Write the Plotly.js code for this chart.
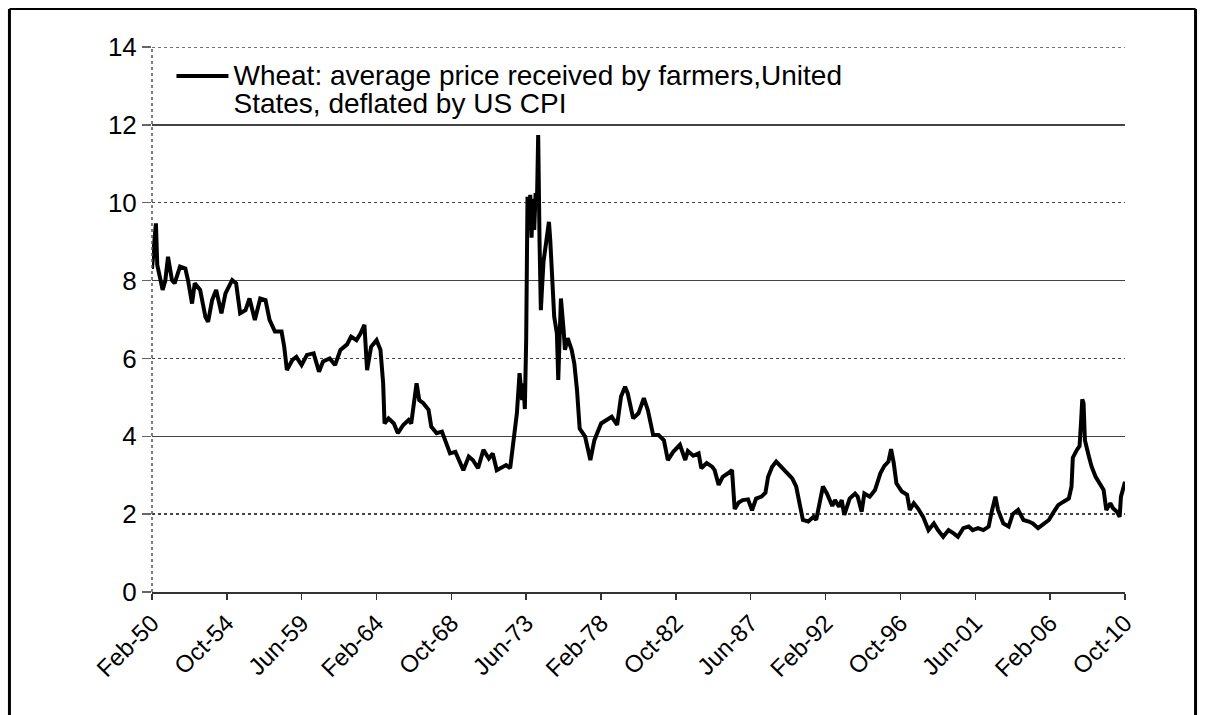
<!DOCTYPE html>
<html>
<head>
<meta charset="utf-8">
<script src="https://cdn.plot.ly/plotly-3.0.1.min.js"></script>
<style>
html,body{margin:0;padding:0;background:#fff;}
#chart{width:1206px;height:715px;}
</style>
</head>
<body>
<div id="chart"></div>
<script>
var months = [
"1950-02","1950-03","1950-04","1950-05","1950-06","1950-08","1950-10","1950-12",
"1951-02","1951-05","1951-07","1951-11","1952-03","1952-05","1952-08","1952-10",
"1953-02","1953-06","1953-08","1953-11","1954-02","1954-06","1954-09","1955-02",
"1955-05","1955-08","1955-12","1956-03","1956-07","1956-11","1957-03","1957-06",
"1957-10","1958-03","1958-05","1958-07","1958-11","1959-02","1959-06","1959-10",
"1960-03","1960-07","1960-10","1961-03","1961-07","1961-11","1962-04","1962-07",
"1962-11","1963-02","1963-05","1963-07","1963-10","1964-02","1964-05","1964-07",
"1964-08","1964-11","1965-03","1965-06","1965-10","1966-02","1966-04","1966-08",
"1966-10","1967-01","1967-05","1967-07","1967-11","1968-03","1968-06","1968-09",
"1969-01","1969-04","1969-07","1969-11","1970-02","1970-06","1970-10","1971-02",
"1971-05","1971-08","1971-12","1972-03","1972-06","1972-08","1972-11","1973-01",
"1973-03","1973-04","1973-05","1973-06","1973-07","1973-08","1973-09","1973-10",
"1973-11","1973-12","1974-01","1974-02","1974-03","1974-04","1974-05","1974-06",
"1974-07","1974-09","1974-11","1974-12","1975-02","1975-03","1975-05","1975-06",
"1975-07","1975-08","1975-10","1975-11","1976-01","1976-04","1976-06","1976-08",
"1976-10","1977-02","1977-06","1977-09","1978-02","1978-06","1978-10","1979-02",
"1979-05","1979-08","1979-10","1980-02","1980-06","1980-10","1981-01","1981-05",
"1981-09","1982-01","1982-04","1982-08","1983-01","1983-05","1983-07","1983-11",
"1984-03","1984-05","1984-09","1985-01","1985-03","1985-06","1985-09","1986-01",
"1986-04","1986-06","1986-09","1986-12","1987-04","1987-07","1987-10","1988-02",
"1988-05","1988-07","1988-10","1989-01","1989-05","1989-09","1990-01","1990-04",
"1990-07","1990-09","1991-01","1991-05","1991-07","1991-10","1991-12","1992-03",
"1992-07","1992-09","1992-12","1993-02","1993-04","1993-08","1993-12","1994-02",
"1994-05","1994-07","1994-11","1995-03","1995-07","1995-10","1996-01","1996-03",
"1996-05","1996-07","1996-11","1997-03","1997-05","1997-08","1997-11","1998-03",
"1998-07","1998-11","1999-02","1999-06","1999-10","2000-02","2000-05","2000-09",
"2001-01","2001-04","2001-08","2001-12","2002-04","2002-06","2002-09","2002-11",
"2003-03","2003-07","2003-10","2004-02","2004-06","2004-10","2005-01","2005-05",
"2005-09","2006-01","2006-04","2006-08","2006-12","2007-04","2007-06","2007-07",
"2007-10","2007-12","2008-01","2008-02","2008-03","2008-04","2008-07","2008-09",
"2008-12","2009-03","2009-06","2009-08","2009-11","2010-01","2010-04","2010-06",
"2010-07","2010-10"
];
var wheatPrice = [
8.3,8.6,9.0,9.47,8.4,8.1,7.76,8.0,
8.61,8.01,7.93,8.36,8.31,8.01,7.41,7.93,
7.76,7.07,6.94,7.50,7.76,7.16,7.67,8.01,
7.93,7.16,7.24,7.54,6.99,7.54,7.50,6.99,
6.69,6.69,6.30,5.70,5.96,6.04,5.83,6.09,
6.13,5.66,5.92,6.00,5.83,6.22,6.36,6.56,
6.47,6.64,6.86,5.70,6.30,6.47,6.22,5.36,
4.33,4.46,4.33,4.08,4.29,4.42,4.33,5.36,
4.93,4.85,4.68,4.25,4.08,4.12,3.82,3.56,
3.60,3.39,3.13,3.48,3.39,3.18,3.65,3.43,
3.56,3.13,3.22,3.26,3.18,3.82,4.59,5.62,
4.93,5.36,4.70,6.50,10.15,9.3,10.2,9.1,
10.1,9.3,10.25,10.0,11.74,9.0,7.24,7.9,
8.5,9.0,9.51,9.04,7.84,7.07,6.64,5.45,
6.5,7.54,6.73,6.22,6.52,6.22,5.87,5.19,
4.20,3.99,3.39,3.90,4.33,4.42,4.50,4.29,
5.02,5.27,5.10,4.46,4.59,4.98,4.67,4.03,
4.03,3.90,3.39,3.60,3.78,3.39,3.62,3.50,
3.56,3.18,3.31,3.22,3.13,2.75,2.96,3.05,
3.13,2.13,2.30,2.36,2.38,2.10,2.40,2.45,
2.55,2.96,3.22,3.35,3.20,3.05,2.92,2.71,
2.19,1.85,1.81,1.93,1.85,2.30,2.71,2.53,
2.21,2.36,2.19,2.36,1.98,2.40,2.53,2.45,
2.06,2.53,2.45,2.62,3.05,3.24,3.35,3.67,
3.31,2.79,2.58,2.50,2.11,2.28,2.15,1.93,
1.59,1.76,1.59,1.42,1.59,1.50,1.42,1.64,
1.68,1.59,1.64,1.59,1.68,2.02,2.45,2.11,
1.76,1.68,2.00,2.11,1.85,1.81,1.76,1.64,
1.76,1.85,2.02,2.23,2.32,2.40,2.71,3.45,
3.65,3.75,4.3,4.95,4.85,3.90,3.48,3.22,
2.96,2.79,2.62,2.11,2.28,2.15,2.06,1.93,
2.45,2.83
];
var tickDates = ["1950-02-01","1954-10-01","1959-06-01","1964-02-01","1968-10-01","1973-06-01","1978-02-01",
  "1982-10-01","1987-06-01","1992-02-01","1996-10-01","2001-06-01","2006-02-01","2010-10-01"];
var tickLabels = ["Feb-50","Oct-54","Jun-59","Feb-64","Oct-68","Jun-73","Feb-78",
  "Oct-82","Jun-87","Feb-92","Oct-96","Jun-01","Feb-06","Oct-10"];
var seriesLines = ["Wheat: average price received by farmers,United", "States, deflated by US CPI"];

var FONT = "Arial, 'Liberation Sans', sans-serif";

var seriesName = seriesLines.map(function (s) {
  return '<span style="font-size:28px">' + s + '</span>';
}).join("<br>");

var trace = {
  x: months, y: wheatPrice, type: "scatter", mode: "lines",
  name: seriesName,
  line: {color: "#000", width: 4},
  showlegend: true
};

var layout = {
  width: 1206, height: 715,
  margin: {l: 152, r: 81, t: 47, b: 123, pad: 0},
  paper_bgcolor: "#fff", plot_bgcolor: "#fff",
  font: {family: FONT, color: "#000", size: 24},
  showlegend: true,
  legend: {
    x: 0.02, y: 0.985, xanchor: "left", yanchor: "top",
    bgcolor: "rgba(0,0,0,0)", borderwidth: 0, valign: "top",
    itemwidth: 52,
    font: {family: FONT, size: 22, color: "#000"}
  },
  xaxis: {
    type: "date", range: ["1950-02-01", "2010-10-01"],
    tickmode: "array", tickvals: tickDates, ticktext: tickLabels,
    tickangle: -45, ticks: "outside", ticklen: 6, tickwidth: 1.5, tickcolor: "#333",
    showline: true, linecolor: "#333", linewidth: 1.5,
    showgrid: false, zeroline: false,
    tickfont: {family: FONT, size: 24, color: "#000"}
  },
  yaxis: {
    range: [0, 14], dtick: 2, tick0: 0,
    ticks: "outside", ticklen: 9, tickwidth: 1.5, tickcolor: "#666",
    showgrid: true, gridcolor: "#444", gridwidth: 1.5, griddash: "dot",
    zeroline: false, showline: false,
    tickfont: {family: FONT, size: 26, color: "#000"}
  },
  yaxis2: {
    overlaying: "y", range: [0, 14], tickmode: "array", tickvals: [4, 8, 12],
    showgrid: true, gridcolor: "#444", gridwidth: 1.3, griddash: "solid",
    showticklabels: false, ticks: "", zeroline: false, showline: false
  },
  shapes: [
    {type: "line", xref: "paper", yref: "y", x0: 0, x1: 1, y0: 14, y1: 14,
     line: {color: "#444", width: 1.5, dash: "dot"}},
    {type: "line", xref: "paper", yref: "paper", x0: 0, x1: 0, y0: 0, y1: 1,
     line: {color: "#555", width: 1.5, dash: "dot"}},
    {type: "line", xref: "paper", yref: "paper", x0: -0.1465, x1: -0.1465, y0: -0.24, y1: 1.0697,
     line: {color: "#000", width: 3}},
    {type: "line", xref: "paper", yref: "paper", x0: -0.1465, x1: 1.0725, y0: 1.0697, y1: 1.0697,
     line: {color: "#000", width: 2}},
    {type: "line", xref: "paper", yref: "paper", x0: 1.0725, x1: 1.0725, y0: -0.24, y1: 1.0697,
     line: {color: "#000", width: 3}}
  ]
};

var helper = {x: [months[0]], y: [null], yaxis: "y2", type: "scatter", mode: "lines",
  showlegend: false, hoverinfo: "skip", line: {color: "rgba(0,0,0,0)"}};

Plotly.newPlot("chart", [trace, helper], layout, {displayModeBar: false, staticPlot: true});
</script>
</body>
</html>
